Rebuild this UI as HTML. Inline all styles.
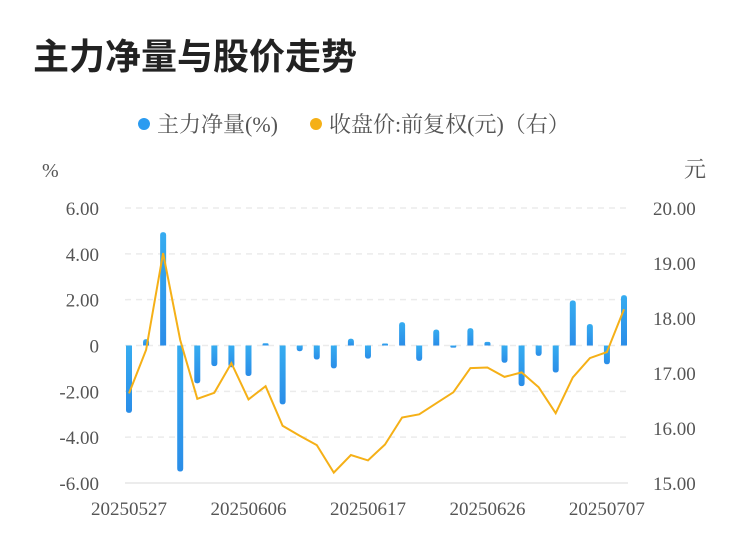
<!DOCTYPE html>
<html><head><meta charset="utf-8"><style>
html,body{margin:0;padding:0;background:#fff;width:750px;height:558px;overflow:hidden}
svg text{font-family:"Liberation Serif","Noto Serif CJK SC","Noto Sans CJK SC",serif}
</style></head><body>
<svg id="chart" width="750" height="558" xmlns="http://www.w3.org/2000/svg">
<defs><linearGradient id="bg" x1="0" y1="0" x2="0" y2="1"><stop offset="0" stop-color="#36acf0"/><stop offset="1" stop-color="#2a8de8"/></linearGradient></defs>
<text x="33" y="69" font-size="36" font-weight="bold" fill="#222" style="font-family:'Liberation Sans','Noto Sans CJK SC',sans-serif">主力净量与股价走势</text>
<g>
<circle cx="144" cy="124" r="6" fill="#2b9bf0"/>
<text x="157" y="132" font-size="22" fill="#555">主力净量(%)</text>
<circle cx="316" cy="124" r="6" fill="#f5b017"/>
<text x="329" y="132" font-size="22" fill="#555">收盘价:前复权(元)（右）</text>
</g>
<text x="42" y="177" font-size="20" fill="#555">%</text>
<text x="684" y="177" font-size="22" fill="#555">元</text>
<g id="grid"></g><g id="bars"></g><g id="line"></g><g id="axes"></g>
</svg>
<script>
const dates=["20250527","20250528","20250529","20250530","20250603","20250604","20250605","20250606","20250609","20250610","20250611","20250612","20250613","20250616","20250617","20250618","20250619","20250620","20250623","20250624","20250625","20250626","20250627","20250630","20250701","20250702","20250703","20250704","20250707","20250708"];
const netValues=[-2.94,0.28,4.95,-5.5,-1.65,-0.9,-0.95,-1.33,0.1,-2.57,-0.25,-0.61,-1.0,0.3,-0.57,0.09,1.02,-0.67,0.7,-0.09,0.76,0.16,-0.75,-1.77,-0.45,-1.18,1.97,0.94,-0.82,2.2];
const prices=[16.63,17.42,19.18,17.6,16.53,16.64,17.18,16.52,16.76,16.04,15.86,15.69,15.19,15.51,15.41,15.7,16.19,16.25,16.45,16.65,17.09,17.1,16.93,17.01,16.74,16.27,16.92,17.27,17.38,18.16];
const leftTicks=[6,4,2,0,-2,-4,-6];
const leftTickLabels=["6.00","4.00","2.00","0","-2.00","-4.00","-6.00"];
const rightTicks=[20,19,18,17,16,15];
const rightTickLabels=["20.00","19.00","18.00","17.00","16.00","15.00"];
const xLabelIdx=[0,7,14,21,28];

const NS="http://www.w3.org/2000/svg";
const yTop=208,yBot=483,x0=129,x1=624;
const yL=v=>yTop+(6-v)/12*(yBot-yTop);
const yR=v=>yTop+(20-v)/5*(yBot-yTop);
const xS=i=>x0+i*(x1-x0)/(dates.length-1);
function mk(tag,attrs,parent){const e=document.createElementNS(NS,tag);for(const k in attrs)e.setAttribute(k,attrs[k]);parent.appendChild(e);return e;}
const grid=document.getElementById('grid'),bars=document.getElementById('bars'),line=document.getElementById('line'),axes=document.getElementById('axes');
leftTicks.forEach((v,i)=>{
  const y=yL(v);
  const g=mk('line',{x1:125,x2:628,y1:y,y2:y,stroke:v===-6?'#e6e6e6':'#ebebeb','stroke-width':1.5,'stroke-dasharray':v===-6?'none':'6,5'},grid);
  
  
  const t=mk('text',{x:99,y:y+7,'font-size':19,fill:'#555','text-anchor':'end'},axes);t.textContent=leftTickLabels[i];
  
  
});
rightTicks.forEach((v,i)=>{
  const t=mk('text',{x:653,y:yR(v)+7,'font-size':19,fill:'#555'},axes);t.textContent=rightTickLabels[i];
  
  
});
xLabelIdx.forEach(i=>{
  const t=mk('text',{x:xS(i),y:515,'font-size':19,fill:'#555','text-anchor':'middle'},axes);t.textContent=dates[i];
  
  
});
const w=6;
netValues.forEach((v,i)=>{
  const y0=yL(0),y=yL(v);const h=Math.max(Math.abs(y-y0),1.5);
  const ry=Math.min(3,h/2);
  const x=xS(i)-w/2;let d;
  if(v>=0){const t=y0-h;d=`M${x},${y0}V${t+ry}Q${x},${t} ${x+ry},${t}H${x+w-ry}Q${x+w},${t} ${x+w},${t+ry}V${y0}Z`;}
  else{const b=y0+h;d=`M${x},${y0}V${b-ry}Q${x},${b} ${x+ry},${b}H${x+w-ry}Q${x+w},${b} ${x+w},${b-ry}V${y0}Z`;}
  const p=mk('path',{d:d,fill:'url(#bg)'},bars);
  
  
});
const pts=prices.map((v,i)=>xS(i).toFixed(1)+','+yR(v).toFixed(1)).join(' ');
const pl=mk('polyline',{points:pts,fill:'none',stroke:'#f5b017','stroke-width':2,'stroke-linejoin':'miter'},line);


</script>
</body></html>
